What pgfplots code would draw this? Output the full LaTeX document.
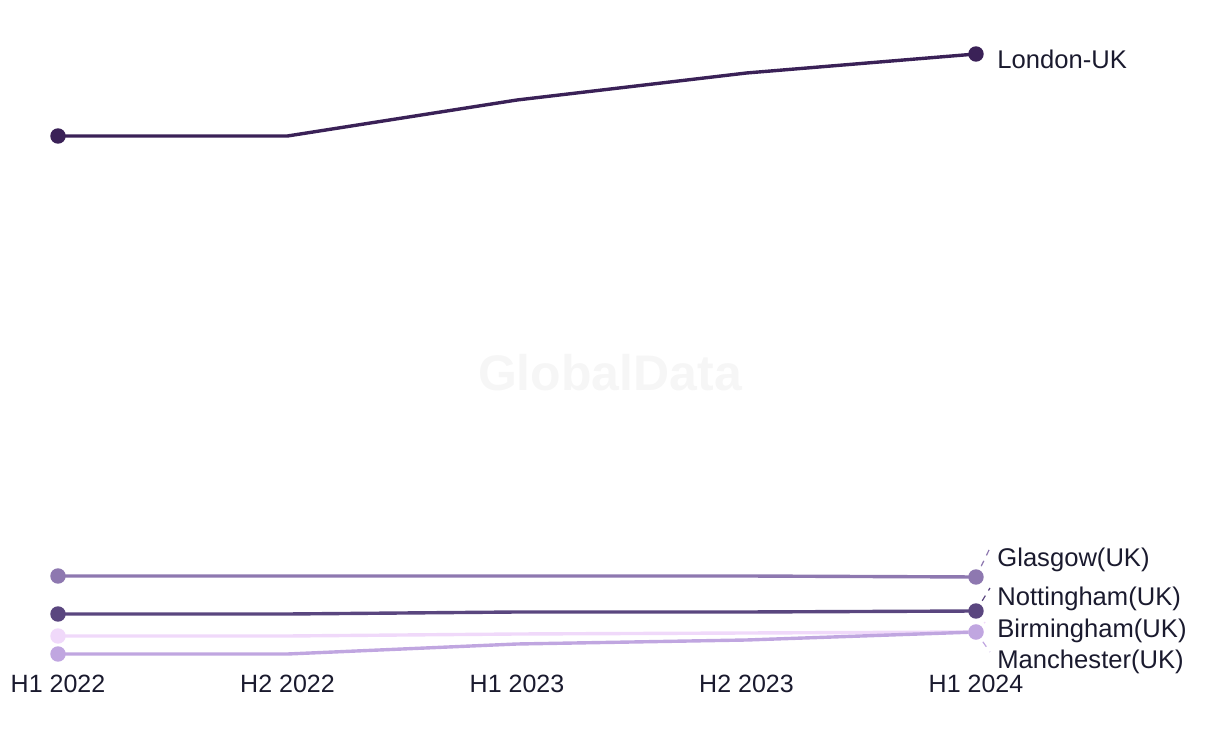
\documentclass[border=0pt]{standalone}
\usepackage{pgfplots}
\pgfplotsset{compat=1.18}
\usepackage{fontspec}
\setmainfont{Liberation Sans}
\definecolor{ink}{HTML}{1A1A2E}
\definecolor{london}{HTML}{3A2157}
\definecolor{glasgow}{HTML}{8E78B0}
\definecolor{notts}{HTML}{5A467F}
\definecolor{brum}{HTML}{F0D9FA}
\definecolor{manc}{HTML}{C0A6E0}
\definecolor{wm}{HTML}{F6F6F6}
\begin{document}
\begin{tikzpicture}
\begin{axis}[
  scale only axis,
  width=459pt, height=300pt,
  xmin=0, xmax=4, ymin=90, ymax=690,
  clip=false,
  hide y axis,
  axis x line*=bottom,
  axis line style={draw=none},
  major tick length=0pt,
  xtick={0,1,2,3,4},
  xticklabels={H1 2022,H2 2022,H1 2023,H2 2023,H1 2024},
  xticklabel style={font=\fontsize{12.5}{14}\selectfont, color=ink, yshift=-7pt},
  every axis plot/.append style={line width=1.7pt, mark=*, mark size=3pt, mark indices={1,5}},
]
% bounding box matching the reference canvas
\path (axis cs:-0.2527,0) rectangle (axis cs:5.0632,744);
\node[font=\bfseries\fontsize{25}{30}\selectfont, text=wm] at (axis cs:2.4052,371) {GlobalData};

\addplot[color=london, mark options={fill=london}] coordinates {(0,608) (1,608) (2,644) (3,671) (4,690)};
\addplot[color=glasgow, mark options={fill=glasgow}] coordinates {(0,168) (1,168) (2,168) (3,168) (4,167)};
\addplot[color=notts, mark options={fill=notts}] coordinates {(0,130) (1,130) (2,132) (3,132) (4,133)};
\addplot[color=brum, mark options={fill=brum}] coordinates {(0,108) (1,108) (2,110) (3,111) (4,112)};
\addplot[color=manc, mark options={fill=manc}] coordinates {(0,90) (1,90) (2,100) (3,104) (4,112)};

\draw[glasgow, dashed, line width=0.6pt] (axis cs:4,167) -- (axis cs:4.061,196);
\draw[notts, dashed, line width=0.6pt] (axis cs:4,133) -- (axis cs:4.061,156);
\draw[brum, dashed, line width=0.6pt] (axis cs:4,112) -- (axis cs:4.04,122);
\draw[manc, dashed, line width=0.6pt] (axis cs:4,112) -- (axis cs:4.061,92);

\begin{scope}[every node/.style={anchor=west, inner sep=0pt, text=ink, font=\fontsize{12.8}{14}\selectfont}]
\node at (axis cs:4.0915,685) {London-UK};
\node at (axis cs:4.0915,184.5) {Glasgow(UK)};
\node at (axis cs:4.0915,145.5) {Nottingham(UK)};
\node at (axis cs:4.0915,113.5) {Birmingham(UK)};
\node at (axis cs:4.0915,82.5) {Manchester(UK)};
\end{scope}
\end{axis}
\end{tikzpicture}
\end{document}
